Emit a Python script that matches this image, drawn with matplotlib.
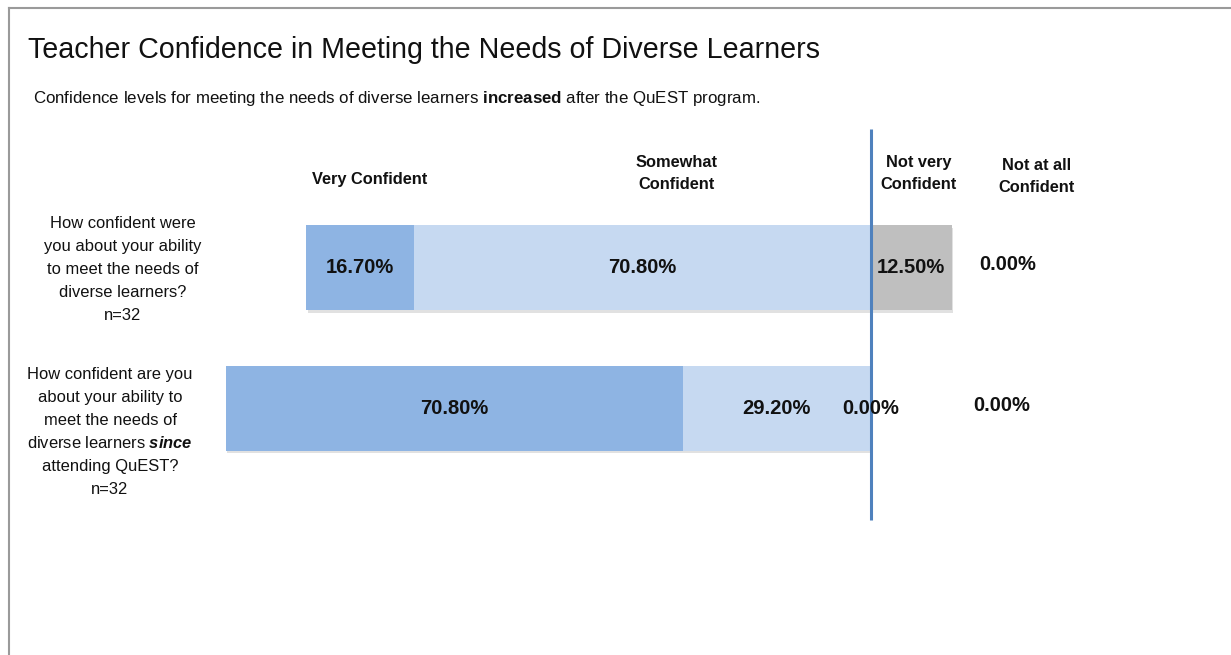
import matplotlib.pyplot as plt
import matplotlib.patheffects as pe
from matplotlib.lines import Line2D

plt.rcParams['font.family'] = ['Liberation Sans', 'DejaVu Sans']
plt.rcParams['mathtext.fontset'] = 'custom'
plt.rcParams['mathtext.rm'] = 'Liberation Sans'
plt.rcParams['mathtext.it'] = 'Liberation Sans:italic'
plt.rcParams['mathtext.bf'] = 'Liberation Sans:bold'
plt.rcParams['mathtext.bfit'] = 'Liberation Sans:italic:bold'

# data (percent)
categories = ["Very Confident", "Somewhat\nConfident", "Not very\nConfident", "Not at all\nConfident"]
questions = [
    "How confident were\nyou about your ability\nto meet the needs of\ndiverse learners?\nn=32",
    "How confident are you\nabout your ability to\nmeet the needs of\ndiverse learners $\\mathbfit{since}$\nattending QuEST?\nn=32",
]
very = [16.7, 70.8]
somewhat = [70.8, 29.2]
not_very = [12.5, 0.0]
not_at_all = [0.0, 0.0]

colors = ["#8EB4E3", "#C6D9F1", "#BFBFBF", "#A6A6A6"]

fig = plt.figure(figsize=(12.31, 6.55), dpi=100)
W, H = 1231, 655

# border of the slide frame
fig.add_artist(Line2D([9 / W, 9 / W], [0, 1 - 8 / H], color="#9a9a9a", lw=1.5))
fig.add_artist(Line2D([9 / W, 1230 / W], [1 - 8 / H, 1 - 8 / H], color="#9a9a9a", lw=1.5))

fig.text(28 / W, 1 - 50 / H, "Teacher Confidence in Meeting the Needs of Diverse Learners",
         fontsize=20.6, va="center", ha="left", color="#111111")
fig.text(33 / W, 1 - 98 / H,
         "Confidence levels for meeting the needs of diverse learners $\\mathbf{increased}$ after the QuEST program.",
         fontsize=12.2, va="center", ha="left", color="#111111")

# axes from pixel 200 to 1200 horizontally, 120 to 530 vertically
ax = fig.add_axes([200 / W, 1 - 530 / H, 1000 / W, 410 / H])
ax.set_xlim(-104, 51)
ax.set_ylim(1.868, -1.05)
ax.axis("off")

ypos = [0, 1]
bh = 0.605
zero_x = [21.2, 20.3]
shadow = [pe.SimplePatchShadow(offset=(1, -2), shadow_rgbFace="#aaaaaa", alpha=0.35), pe.Normal()]

for i, y in enumerate(ypos):
    left_very = -(very[i] + somewhat[i])
    ax.barh(y, very[i], left=left_very, height=bh, color=colors[0], path_effects=shadow)
    ax.barh(y, somewhat[i], left=-somewhat[i], height=bh, color=colors[1], path_effects=shadow)
    if not_very[i] > 0:
        ax.barh(y, not_very[i], left=0, height=bh, color=colors[2], path_effects=shadow)

    lab = dict(ha="center", va="center", fontsize=14.5, fontweight="bold", color="#111111")
    ax.text(left_very + very[i] / 2, y, f"{very[i]:.2f}%", **lab)
    ax.text(-somewhat[i] / 2, y, f"{somewhat[i]:.2f}%", **lab)
    ax.text(not_very[i] / 2, y, f"{not_very[i]:.2f}%", **lab)
    ax.text(zero_x[i], y - 0.02, f"{not_at_all[i]:.2f}%", **lab)

# headers
hx = [-77.7, -30.1, 7.4, 25.7]
hy = [-0.623, -0.67, -0.67, -0.65]
for x, y, c in zip(hx, hy, categories):
    ax.text(x, y, c, ha="center", va="center", fontsize=11.8, fontweight="bold",
            color="#111111", linespacing=1.6)

# zero line
ax.plot([0, 0], [-0.986, 1.797], color="#4F81BD", lw=2.2, solid_capstyle="butt")

# question labels, one line at a time so spacing stays even
qx = [123, 110]
qtop = [222, 373]
for q, x0, y0 in zip(questions, qx, qtop):
    for k, line in enumerate(q.split("\n")):
        fig.text(x0 / W, 1 - (y0 + 23 * k) / H, line, ha="center", va="center_baseline",
                 fontsize=11.9, color="#111111")

fig.savefig("out.png", dpi=100)
